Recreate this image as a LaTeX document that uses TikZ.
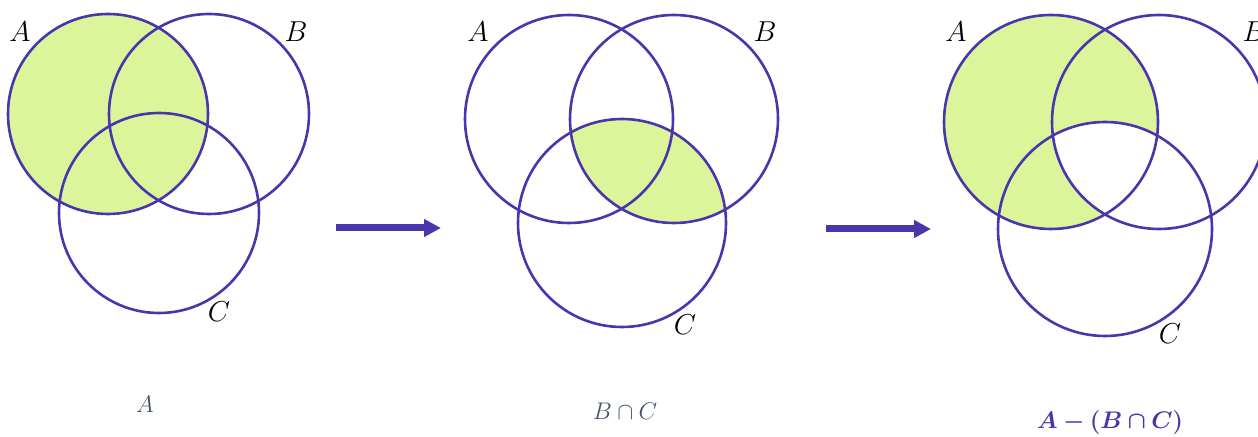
\documentclass[tikz,border=0pt]{standalone}
\usepackage{amsmath,amssymb}
\usepackage{bm}
\usepackage{xcolor}
\usetikzlibrary{arrows.meta,positioning}
\definecolor{setpurple}{RGB}{72,54,172}
\definecolor{setgreen}{RGB}{221,245,154}
\definecolor{capgray}{RGB}{68,84,106}
\tikzset{
  setline/.style={draw=setpurple, line width=1.3pt},
  setname/.style={font=\fontsize{14.5}{17}\selectfont, inner sep=0pt},
  caption/.style={font=\fontsize{12.5}{15}\selectfont, inner sep=0pt, text=capgray},
  arr/.style={-{Triangle[length=8.5pt,width=8.5pt]}, draw=setpurple, line width=3.5pt},
}

\begin{document}
\begin{tikzpicture}[x=0.5pt, y=-0.5pt]
  \useasboundingbox (0,0) rectangle (1258,437);
  \clip (0,0) rectangle (1258,437);

  % panel 1: A
  \fill[setgreen] (108,114) circle (100);
  \draw[setline] (108,114) circle (100);
  \draw[setline] (209,114) circle (100);
  \draw[setline] (159,213) circle (100);
  \node[setname] (a1) at (20,32) {$A$};
  \node[setname] (b1) at (296,32) {$B$};
  \node[setname] (c1) at (219,312) {$C$};
  \node[caption] (cap1) at (145,404) {$A$};

  % panel 2: B n C
  \begin{scope}
    \clip (674,119) circle (104);
    \fill[setgreen] (622,223) circle (104);
  \end{scope}
  \draw[setline] (569,119) circle (104);
  \draw[setline] (674,119) circle (104);
  \draw[setline] (622,223) circle (104);
  \node[setname] (a2) at (478,32) {$A$};
  \node[setname] (b2) at (765,32) {$B$};
  \node[setname] (c2) at (685,325) {$C$};
  \node[caption] (cap2) at (625,411) {$B\cap C$};

  % panel 3: A - (B n C)
  \fill[setgreen] (1051,122) circle (107);
  \begin{scope}
    \clip (1159,122) circle (107);
    \fill[white] (1105,229) circle (107);
  \end{scope}
  \draw[setline] (1051,122) circle (107);
  \draw[setline] (1159,122) circle (107);
  \draw[setline] (1105,229) circle (107);
  \node[setname] (a3) at (956,32) {$A$};
  \node[setname] (b3) at (1254,32) {$B$};
  \node[setname] (c3) at (1170,334) {$C$};
  \node[caption, text=setpurple, font=\fontsize{13}{15}\selectfont] (cap3) at (1110,423)
    {$\bm{A-(B\cap C)}$};

  % arrows between panels
  \coordinate (s1) at (336,228);
  \coordinate (e1) at (441,228);
  \coordinate (s2) at (826,229);
  \coordinate (e2) at (931,229);
  \draw[arr] (s1) -- (e1);
  \draw[arr] (s2) -- (e2);
\end{tikzpicture}
\end{document}
